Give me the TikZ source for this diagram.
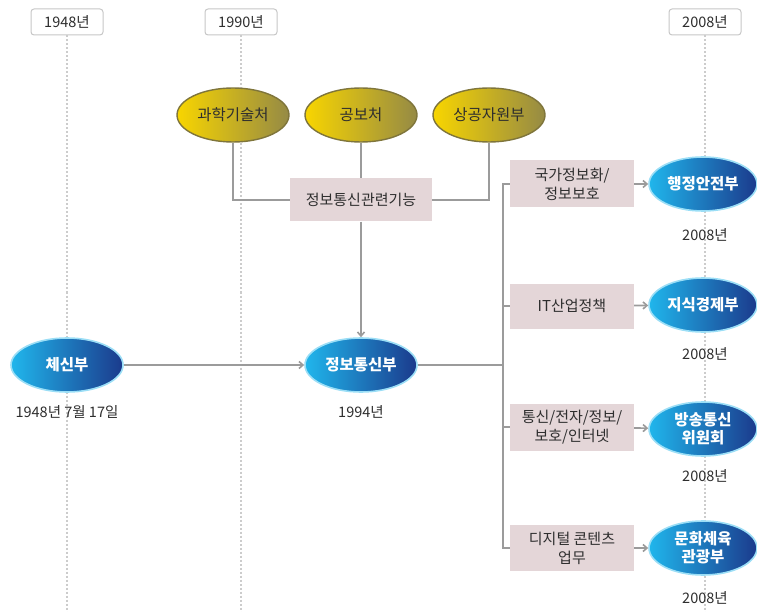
\documentclass[tikz,border=0pt]{standalone}
\usepackage{fontspec}
\setmainfont{Noto Sans CJK KR}
\usetikzlibrary{shapes.geometric,arrows.meta}
\definecolor{goldA}{HTML}{F8D500}
\definecolor{goldB}{HTML}{958A45}
\definecolor{blueA}{HTML}{20B6EC}
\definecolor{blueB}{HTML}{1B3A8C}
\definecolor{boxpink}{HTML}{E4D6D8}
\definecolor{linegray}{HTML}{9B9B9B}
\definecolor{txtgray}{HTML}{2E2E2E}

\begin{document}
\begin{tikzpicture}[x=1pt,y=1pt,
  font=\fontsize{15.5}{18}\selectfont, text=txtgray,
  goldoval/.style={ellipse, draw=goldB!85!black, line width=1.4pt, left color=goldA, right color=goldB,
    minimum width=112pt, minimum height=54pt, inner sep=0pt},
  blueoval/.style={ellipse, draw=blueA!45, line width=1.6pt, left color=blueA, right color=blueB,
    minimum width=112pt, minimum height=54pt, inner sep=0pt, text=white, align=center,
    font=\fontsize{15.5}{18}\selectfont\bfseries},
  funcbox/.style={fill=boxpink, minimum width=124pt, minimum height=46pt, inner sep=0pt, align=center,
    font=\fontsize{15}{19}\selectfont},
  yearbox/.style={draw=black!22, line width=1pt, rounded corners=3pt, fill=white,
    minimum width=72pt, minimum height=26pt, inner sep=0pt, font=\fontsize{14.5}{16}\selectfont},
  datelabel/.style={font=\fontsize{14.5}{16}\selectfont},
  timeline/.style={draw=black!20, line width=1.2pt, dash pattern=on 2pt off 2pt},
  link/.style={draw=linegray, line width=1.6pt},
  arr/.style={link, -{Straight Barb[length=4pt,width=7pt]}}]
\useasboundingbox (0,0) rectangle (757,-612);
\node[yearbox] (y1948) at (67,-22) {1948년};
\node[yearbox] (y1990) at (241,-22) {1990년};
\node[yearbox] (y2008) at (705,-22) {2008년};
\coordinate (e1948) at (67,-612);
\coordinate (e1990) at (241,-612);
\coordinate (e2008) at (705,-612);
\draw[timeline] (y1948) -- (e1948);
\draw[timeline] (y1990) -- (e1990);
\draw[timeline] (y2008) -- (e2008);
\node[goldoval] (gwahak) at (233,-115) {과학기술처};
\node[goldoval] (gongbo) at (361,-115) {공보처};
\node[goldoval] (sanggong) at (489,-115) {상공자원부};
\node[funcbox, minimum width=142pt, minimum height=43pt] (func) at (361,-200) {정보통신관련기능};
\node[blueoval] (chesin) at (67,-365) {체신부};
\node[blueoval] (jeongbo) at (361,-365) {정보통신부};
\node[datelabel] (d1948) at (67,-412) {1948년 7월 17일};
\node[datelabel] (d1994) at (361,-412) {1994년};
\node[funcbox, minimum height=47pt] (r1) at (572,-184) {국가정보화/\\정보보호};
\node[funcbox, minimum height=45pt] (r2) at (572,-306) {IT산업정책};
\node[funcbox, minimum height=47pt] (r3) at (572,-427) {통신/전자/정보/\\보호/인터넷};
\node[funcbox, minimum height=46pt] (r4) at (572,-548) {디지털 콘텐츠\\업무};
\node[blueoval, minimum width=108pt] (haengjeong) at (703,-184) {행정안전부};
\node[blueoval, minimum width=108pt] (jisik) at (703,-305) {지식경제부};
\node[blueoval, minimum width=108pt] (bangsong) at (703,-429) {방송통신\\위원회};
\node[blueoval, minimum width=108pt] (munhwa) at (703,-548) {문화체육\\관광부};
\node[datelabel] (d1) at (705,-235) {2008년};
\node[datelabel] (d2) at (705,-354) {2008년};
\node[datelabel] (d3) at (705,-476) {2008년};
\node[datelabel] (d4) at (705,-598) {2008년};
\coordinate (hub) at (503,-365);
\draw[link] (gwahak.south) |- (func.west);
\draw[link] (gongbo) -- (func);
\draw[link] (sanggong.south) |- (func.east);
\draw[arr] (func) -- (jeongbo);
\draw[arr] (chesin) -- (jeongbo);
\draw[link] (jeongbo) -- (hub);
\draw[link] (r1.west) -- (r1.west -| hub) -- (r4.west -| hub) -- (r4.west);
\draw[link] (r2.west) -- (r2.west -| hub);
\draw[link] (r3.west) -- (r3.west -| hub);
\draw[arr] (r1) -- (haengjeong);
\draw[arr] (r2) -- (jisik);
\draw[arr] (r3) -- (bangsong);
\draw[arr] (r4) -- (munhwa);
\end{tikzpicture}
\end{document}
